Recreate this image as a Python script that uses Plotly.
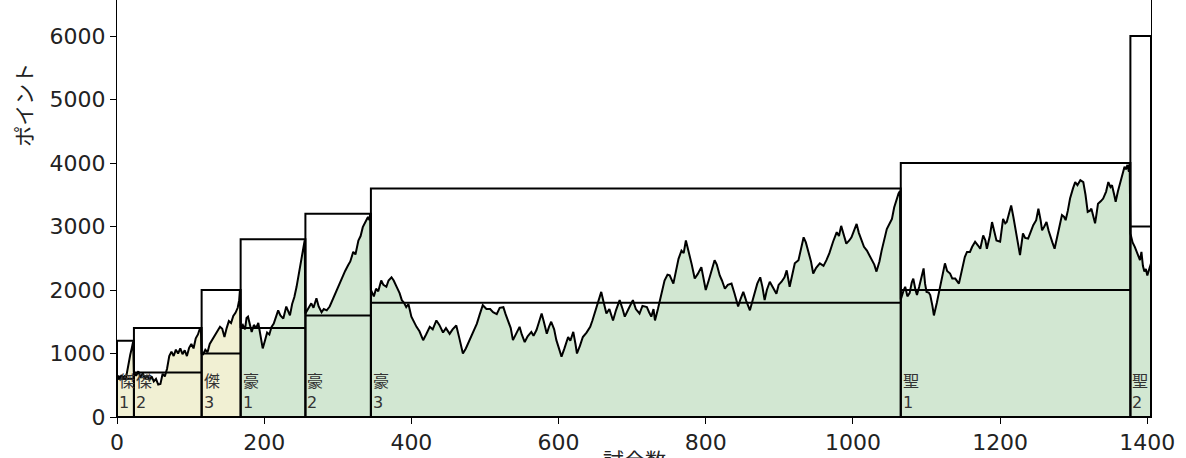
import plotly.graph_objects as go

# ---- data ----
rank_names = ["傑", "傑", "傑", "豪", "豪", "豪", "聖", "聖"]
rank_levels = [1, 2, 3, 1, 2, 3, 1, 2]
seg_start = [0, 23, 115, 168, 256, 345, 1065, 1377]
seg_end = [23, 115, 168, 256, 345, 1065, 1377, 1405]
seg_lower = [600, 700, 1000, 1400, 1600, 1800, 2000, 3000]
seg_upper = [1200, 1400, 2000, 2800, 3200, 3600, 4000, 6000]

pts_seg1 = [(0,600),(2,650),(4,610),(6,660),(8,620),(10,640),(12,600),(14,750),(16,850),(18,980),(20,1080),(22,1190)]
pts_seg2 = [(23,710),(26,650),(29,720),(32,620),(35,690),(38,600),(41,660),(44,580),(47,640),(50,560),(53,600),(56,510),(59,520),(62,680),(65,640),(68,760),(71,960),(74,1030),(77,960),(80,1060),(83,1000),(86,1080),(89,990),(92,1050),(95,960),(98,1090),(101,1150),(104,1080),(107,1240),(110,1300),(112,1370),(114,1400)]
pts_seg3 = [(115,1000),(117,990),(120,1060),(123,1020),(126,1150),(129,1210),(132,1260),(135,1330),(138,1400),(140,1420),(143,1390),(146,1260),(149,1400),(152,1510),(155,1480),(158,1590),(161,1640),(164,1720),(166,1840),(167,1990)]
pts_seg4 = [(168,1400),(171,1450),(174,1380),(176,1560),(178,1580),(181,1420),(183,1340),(186,1450),(189,1400),(192,1480),(195,1300),(198,1080),(201,1200),(204,1330),(207,1300),(210,1420),(213,1470),(216,1560),(219,1680),(222,1600),(226,1550),(230,1740),(233,1660),(235,1600),(238,1780),(241,1890),(244,2050),(248,2310),(251,2480),(254,2700),(255,2780)]
pts_seg5 = [(256,1630),(260,1700),(264,1790),(267,1720),(271,1870),(274,1740),(278,1650),(281,1700),(285,1680),(289,1740),(292,1820),(295,1900),(298,2000),(301,2080),(304,2150),(307,2230),(310,2300),(314,2390),(317,2450),(321,2600),(324,2560),(328,2780),(331,2850),(334,2990),(337,3060),(341,3150),(343,3100),(344,3200)]
pts_seg6 = [(345,2000),(349,1900),(352,2020),(355,1980),(359,2150),(362,2080),(366,2050),(369,2150),(373,2200),(376,2150),(380,2050),(384,1950),(387,1840),(390,1800),(393,1730),(396,1780),(400,1580),(404,1480),(407,1420),(411,1350),(416,1210),(420,1300),(425,1420),(429,1380),(434,1520),(438,1450),(443,1330),(447,1400),(452,1310),(456,1380),(461,1440),(465,1250),(470,1000),(474,1080),(479,1210),(484,1330),(489,1470),(493,1620),(497,1760),(502,1700),(507,1700),(511,1650),(516,1620),(520,1720),(525,1730),(528,1620),(531,1520),(535,1400),(538,1210),(542,1300),(547,1420),(550,1300),(554,1180),(558,1270),(563,1340),(566,1280),(570,1370),(573,1480),(577,1630),(580,1500),(584,1310),(587,1420),(590,1500),(594,1380),(597,1210),(600,1100),(604,950),(608,1080),(613,1260),(616,1200),(620,1340),(623,1150),(625,1000),(629,1120),(633,1260),(638,1330),(643,1420),(646,1520),(649,1630),(653,1780),(658,1970),(661,1820),(665,1630),(669,1700),(674,1520),(678,1680),(683,1840),(687,1700),(690,1580),(695,1700),(701,1840),(705,1700),(710,1630),(714,1750),(720,1730),(723,1650),(726,1580),(729,1700),(731,1520),(735,1700),(738,1840),(741,2000),(744,2150),(748,2240),(751,2230),(756,2100),(760,2300),(763,2490),(767,2620),(770,2580),(773,2780),(776,2650),(778,2540),(781,2400),(785,2180),(789,2250),(794,2360),(797,2200),(800,2000),(804,2150),(808,2300),(812,2470),(815,2400),(819,2230),(822,2150),(826,2020),(830,2080),(835,2100),(839,1950),(844,1740),(847,1850),(851,1970),(855,1830),(860,1680),(864,1850),(867,1990),(870,2100),(874,2200),(877,2050),(880,1840),(883,2000),(887,2130),(891,2050),(896,1940),(899,2080),(903,2130),(907,2200),(910,2310),(914,2050),(917,2200),(921,2420),(926,2470),(930,2650),(933,2830),(936,2750),(939,2620),(943,2450),(946,2260),(950,2350),(955,2420),(960,2380),(964,2470),(968,2580),(973,2760),(978,2910),(981,2850),(984,3010),(988,2850),(991,2730),(995,2780),(998,2830),(1002,2950),(1005,3040),(1008,2900),(1012,2760),(1015,2680),(1019,2620),(1022,2550),(1025,2490),(1029,2400),(1032,2290),(1036,2450),(1039,2620),(1043,2800),(1046,2960),(1050,3050),(1053,3120),(1056,3300),(1059,3430),(1062,3520),(1064,3560)]
pts_seg7 = [(1065,1850),(1069,2000),(1071,2050),(1074,1900),(1077,1950),(1080,2120),(1082,2180),(1085,2000),(1087,1920),(1090,2050),(1093,2200),(1096,2340),(1098,2100),(1100,1970),(1103,1960),(1105,1920),(1108,1750),(1110,1600),(1114,1800),(1118,2040),(1121,2200),(1125,2420),(1128,2300),(1132,2260),(1135,2180),(1139,2180),(1144,2100),(1148,2300),(1152,2520),(1155,2600),(1159,2600),(1162,2680),(1166,2760),(1170,2700),(1173,2650),(1177,2860),(1180,2780),(1182,2650),(1186,2850),(1189,3070),(1192,2900),(1195,2780),(1200,2760),(1204,3120),(1207,3050),(1209,3070),(1212,3200),(1215,3330),(1218,3150),(1220,2990),(1224,2750),(1227,2550),(1231,2890),(1234,2820),(1238,2810),(1241,2900),(1245,3020),(1249,3100),(1252,3280),(1255,3100),(1257,2940),(1260,3000),(1263,3070),(1266,2930),(1268,2840),(1271,2750),(1274,2650),(1277,2800),(1279,2940),(1282,3050),(1284,3180),(1287,3150),(1289,3100),(1292,3250),(1295,3440),(1299,3600),(1302,3700),(1305,3650),(1309,3730),(1313,3700),(1316,3500),(1319,3230),(1322,3250),(1324,3280),(1327,3150),(1329,3050),(1331,3200),(1333,3360),(1337,3400),(1340,3440),(1344,3550),(1347,3700),(1350,3620),(1352,3650),(1355,3500),(1357,3390),(1360,3550),(1363,3680),(1366,3800),(1369,3940),(1371,3900),(1373,3970),(1375,3860),(1376,4000)]
pts_seg8 = [(1377,2890),(1380,2750),(1383,2680),(1386,2600),(1388,2520),(1390,2470),(1392,2600),(1394,2380),(1396,2290),(1398,2330),(1400,2230),(1402,2300),(1405,2420)]

segment_points = [pts_seg1, pts_seg2, pts_seg3, pts_seg4, pts_seg5, pts_seg6, pts_seg7, pts_seg8]

x_ticks = [0, 200, 400, 600, 800, 1000, 1200, 1400]
y_ticks = [0, 1000, 2000, 3000, 4000, 5000, 6000]

# ---- styles ----
FONT = "DejaVu Sans, Noto Sans CJK JP, sans-serif"
rank_fill = {"傑": "rgb(241,240,211)", "豪": "rgb(210,231,210)", "聖": "rgb(210,231,210)"}

fig = go.Figure()

all_x, all_y = [], []
for i, pts in enumerate(segment_points):
    xs = [p[0] for p in pts]
    ys = [p[1] for p in pts]
    all_x += xs
    all_y += ys
    fig.add_trace(go.Scatter(
        x=xs, y=ys, mode="lines", fill="tozeroy",
        fillcolor=rank_fill[rank_names[i]], line=dict(width=0),
        hoverinfo="skip", showlegend=False))

fig.add_trace(go.Scatter(x=all_x, y=all_y, mode="lines",
                         line=dict(color="black", width=2), showlegend=False))

shapes = []
annotations = []
for i in range(len(seg_start)):
    shapes.append(dict(type="rect", xref="x", yref="y",
                       x0=seg_start[i], x1=seg_end[i], y0=0, y1=seg_upper[i],
                       line=dict(color="black", width=2), fillcolor="rgba(0,0,0,0)"))
    shapes.append(dict(type="line", xref="x", yref="y",
                       x0=seg_start[i], x1=seg_end[i], y0=seg_lower[i], y1=seg_lower[i],
                       line=dict(color="black", width=2)))
    annotations.append(dict(x=seg_start[i], y=0, xref="x", yref="y",
                            text=f"{rank_names[i]}<br>{rank_levels[i]}",
                            showarrow=False, xanchor="left", yanchor="bottom",
                            align="left", xshift=0, yshift=3,
                            font=dict(family=FONT, size=16, color="#333333")))

annotations.append(dict(x=-0.0885, y=0.75, xref="paper", yref="paper",
                        text="ポイント", textangle=-90, showarrow=False,
                        xanchor="center", yanchor="middle",
                        font=dict(family=FONT, size=21, color="#222222")))
annotations.append(dict(x=0.5, y=-0.072, xref="paper", yref="paper",
                        text="試合数", showarrow=False,
                        xanchor="center", yanchor="top",
                        font=dict(family=FONT, size=21, color="#222222")))

fig.update_layout(
    width=1186, height=458,
    margin=dict(l=117, r=35, t=0, b=41, autoexpand=False),
    paper_bgcolor="white", plot_bgcolor="white",
    font=dict(family=FONT, size=22, color="#222222"),
    shapes=shapes, annotations=annotations, showlegend=False,
    xaxis=dict(range=[0, 1405], tickvals=x_ticks, showgrid=False, zeroline=False,
               showline=True, mirror=True, linecolor="black", linewidth=1,
               ticks="outside", ticklen=6, tickcolor="black",
               tickfont=dict(family=FONT, size=22, color="#222222")),
    yaxis=dict(range=[0, 6567], tickvals=y_ticks, showgrid=False, zeroline=False,
               showline=True, mirror=True, linecolor="black", linewidth=1,
               ticks="outside", ticklen=6, tickcolor="black",
               tickfont=dict(family=FONT, size=22, color="#222222")),
)

fig.write_html("out.html", config={"displayModeBar": False},
               post_script="document.body.style.margin='0';document.body.style.padding='0';")
